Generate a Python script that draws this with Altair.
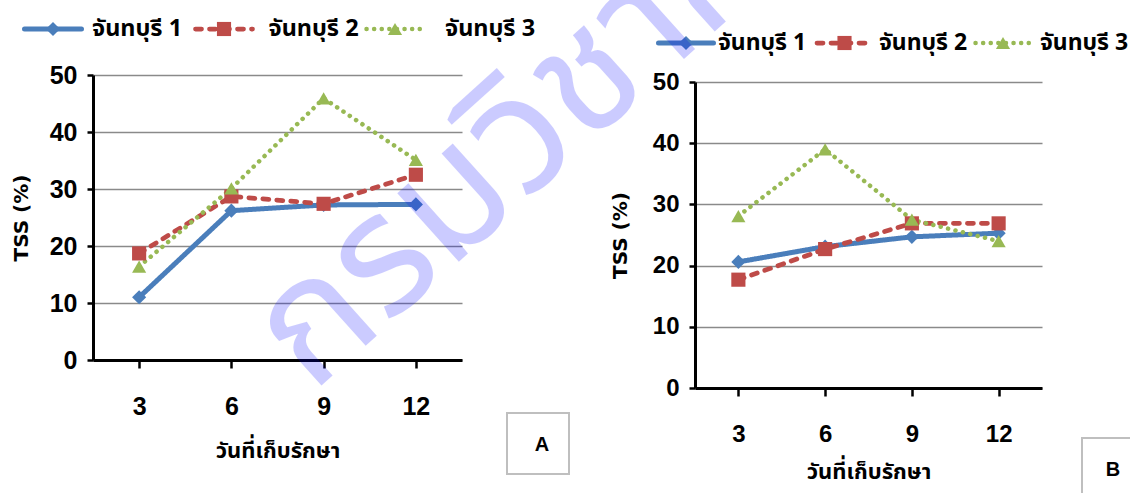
import altair as alt
import pandas as pd

# ---------------- data ----------------
days = [3, 6, 9, 12]
series = ["จันทบุรี 1", "จันทบุรี 2", "จันทบุรี 3"]
a_s1 = [11.0, 26.2, 27.2, 27.3]
a_s2 = [18.7, 28.7, 27.4, 32.5]
a_s3 = [16.4, 30.1, 45.9, 35.1]
b_s1 = [20.6, 23.1, 24.7, 25.3]
b_s2 = [17.7, 22.7, 26.9, 26.9]
b_s3 = [28.1, 39.0, 27.5, 24.0]
y_ticks = [0, 10, 20, 30, 40, 50]
x_title = "วันที่เก็บรักษา"
y_title = "TSS  (%)"
panel_names = ["A", "B"]
watermark_text = "กรมวิชาการเกษตร"


def to_long(vals):
    rows = []
    for s, v in zip(series, vals):
        for d, val in zip(days, v):
            rows.append({"day": d, "series": s, "tss": val})
    return pd.DataFrame(rows)


dfA = to_long([a_s1, a_s2, a_s3])
dfB = to_long([b_s1, b_s2, b_s3])

# ---------------- styles ----------------
colors = ["#4A7EBB", "#BE4B48", "#98B954"]
dashes = [[1, 0], [6, 8], [0.1, 7.5]]
shapes = ["diamond", "square", "triangle-up"]
NUM_FONT = "Liberation Sans Narrow, Liberation Sans, Arial, sans-serif"
THAI_FONT = "Tahoma, Noto Sans Thai, Loma, Garuda, DejaVu Sans, sans-serif"

color_enc = alt.Color("series:N", scale=alt.Scale(domain=series, range=colors), legend=None)
dash_enc = alt.StrokeDash("series:N", scale=alt.Scale(domain=series, range=dashes), legend=None)
shape_enc = alt.Shape("series:N", scale=alt.Scale(domain=series, range=shapes), legend=None)
width_enc = alt.StrokeWidth("series:N", scale=alt.Scale(domain=series, range=[5, 4.5, 3.5]), legend=None)


def panel(df, xr, yr, y_off, x_off, fs, msizes, tpad_y, tpad_x, lpad_x):
    x = alt.X(
        "day:O",
        scale=alt.Scale(type="point", range=xr, padding=0.5),
        axis=alt.Axis(
            orient="bottom", offset=x_off, title=x_title, labelAngle=0,
            domainColor="black", domainWidth=3, tickColor="black", tickWidth=2.5, tickSize=8,
            labelFont=NUM_FONT, labelFontSize=fs, labelFontWeight="bold", labelColor="black",
            labelPadding=lpad_x, titleFont=THAI_FONT, titleFontSize=22, titleFontWeight="bold",
            titleColor="black", titlePadding=tpad_x, grid=False,
        ),
    )
    y = alt.Y(
        "tss:Q",
        scale=alt.Scale(domain=[0, 50], range=yr, nice=False),
        axis=alt.Axis(
            orient="left", offset=y_off, values=y_ticks, title=y_title,
            domainColor="black", domainWidth=3, tickColor="black", tickWidth=2.5, tickSize=6,
            labelFont=NUM_FONT, labelFontSize=fs, labelFontWeight="bold", labelColor="black",
            labelPadding=10, labelFlush=False, labelOverlap=False,
            titleFont="DejaVu Sans, sans-serif", titleFontSize=20, titleFontWeight="bold",
            titleColor="black", titlePadding=tpad_y,
            grid=True, gridColor="#8A8A8A", gridWidth=1.5,
        ),
    )
    base = alt.Chart(df)
    lines = base.mark_line(strokeCap="round", strokeJoin="round").encode(
        x=x, y=y, color=color_enc, strokeDash=dash_enc, strokeWidth=width_enc,
        detail="series:N",
    )
    pts = base.mark_point(filled=True, opacity=1).encode(
        x=x, y=y, color=color_enc, shape=shape_enc,
        size=alt.Size("series:N", scale=alt.Scale(domain=series, range=msizes), legend=None),
    )
    return alt.layer(lines, pts)


def legend(sym_rng, text_rng, y_px, line_len, msizes, fs):
    ldf = pd.DataFrame({"series": series})
    xs = alt.X("series:N", scale=alt.Scale(type="point", domain=series, range=sym_rng, padding=0), axis=None)
    base = alt.Chart(ldf)
    line = base.mark_point(shape="M-1,0L1,0", size=line_len ** 2, filled=False,
                           strokeCap="round", opacity=1).encode(
        x=xs, y=alt.value(y_px), color=color_enc, strokeDash=dash_enc, strokeWidth=width_enc)
    mk = base.mark_point(filled=True, opacity=1).encode(
        x=xs, y=alt.value(y_px), color=color_enc, shape=shape_enc,
        size=alt.Size("series:N", scale=alt.Scale(domain=series, range=msizes), legend=None))
    txt = base.mark_text(align="left", baseline="middle", font=THAI_FONT, fontSize=fs,
                         fontWeight="bold", color="black").encode(
        x=alt.X("series:N", scale=alt.Scale(type="point", domain=series, range=text_rng, padding=0), axis=None),
        y=alt.value(y_px), text="series:N")
    return alt.layer(alt.layer(line, mk), txt).resolve_scale(x="independent")


def box(name, x0, x1, y0, y1, tx, ty):
    d = pd.DataFrame({"name": [name]})
    r = alt.Chart(d).mark_rect(fill="white", stroke="#BFBFBF", strokeWidth=2).encode(
        x=alt.value(x0), x2=alt.value(x1), y=alt.value(y0), y2=alt.value(y1))
    t = alt.Chart(d).mark_text(font="Liberation Sans, Arial, sans-serif", fontSize=20,
                               fontWeight="bold", color="black").encode(
        x=alt.value(tx), y=alt.value(ty), text="name:N")
    return alt.layer(r, t)


pA = panel(dfA, [93, 462], [360, 75], -93, -133, 25, [200, 200, 130], 18, 21, 26)
pB = panel(dfB, [695, 1042], [388, 82], -695, -105, 24, [150, 280, 220], 22, 15, 26)
legA = legend([53, 395], [92, 445], 29, 57, [160, 160, 110], 23.5)
legB = legend([686, 1003], [718, 1040], 43, 55, [160, 200, 160], 23)
boxA = box(panel_names[0], 507, 569, 413, 474, 542, 445)
boxB = box(panel_names[1], 1082, 1140, 438, 500, 1113, 470)

wm = alt.Chart(pd.DataFrame({"t": [watermark_text]})).mark_text(
    angle=318, fontSize=168, color="#0000FF", opacity=0.2, align="left",
    baseline="alphabetic", font=THAI_FONT).encode(
    x=alt.value(312), y=alt.value(394), text="t:N")

chart = alt.layer(pA, pB, legA, legB, boxA, boxB, wm).resolve_scale(
    x="independent", y="independent"
).properties(
    width=1130, height=493, autosize=alt.AutoSizeParams(type="none"), padding=0,
    background="white",
).configure_view(stroke=None)

chart.save("out.html", embed_options={"renderer": "svg", "actions": False})
